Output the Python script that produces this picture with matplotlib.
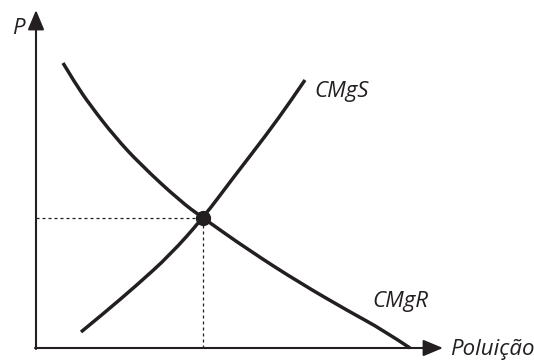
import numpy as np
import matplotlib.pyplot as plt
from matplotlib.path import Path
from matplotlib.patches import PathPatch

# curve points (origin at the axes corner)
cmgr_x = [27, 39, 54, 79, 104, 144, 167, 214, 264, 314, 347, 374]
cmgr_y = [285, 265, 243, 211, 184, 147, 130, 97, 65, 36, 18, 0]
cmgs_x = [45, 67, 101, 134, 167, 197, 231, 254, 269]
cmgs_y = [16, 34, 63, 93, 130, 170, 214, 246, 268]
eq_x, eq_y = 167, 130
labels = {'CMgS': (278, 256), 'CMgR': (336, 46)}

ink = '#231f20'


def smooth_path(xs, ys):
    # quadratic bezier pieces through the midpoints of the read points
    pts = np.column_stack([xs, ys]).astype(float)
    verts = [pts[0]]
    codes = [Path.MOVETO]
    n = len(pts)
    for i in range(1, n - 1):
        end = pts[i + 1] if i == n - 2 else (pts[i] + pts[i + 1]) / 2
        verts += [pts[i], end]
        codes += [Path.CURVE3, Path.CURVE3]
    return Path(verts, codes)


fig = plt.figure(figsize=(5.34, 3.6), dpi=100)
ax = fig.add_axes([0, 0, 1, 1])
ax.set_xlim(-36, 498)
ax.set_ylim(-12, 348)
ax.axis('off')

# axes with arrow heads
arrow = dict(arrowstyle='-|>,head_length=1.2,head_width=0.5', color=ink, lw=1.5,
             shrinkA=0, shrinkB=0, mutation_scale=10)
ax.annotate('', xy=(0, 338), xytext=(0, -1), arrowprops=arrow)
ax.annotate('', xy=(407, 0), xytext=(-1, 0), arrowprops=arrow)

for xs, ys in [(cmgr_x, cmgr_y), (cmgs_x, cmgs_y)]:
    ax.add_patch(PathPatch(smooth_path(xs, ys), fill=False, edgecolor=ink,
                           lw=2.5, capstyle='butt'))

ax.plot([0, eq_x], [eq_y, eq_y], color=ink, lw=0.9, ls=(0, (2.4, 2.4)))
ax.plot([eq_x, eq_x], [0, eq_y], color=ink, lw=0.9, ls=(0, (2.4, 2.4)))
ax.plot(eq_x, eq_y, 'o', color=ink, ms=10)

font = dict(family='Open Sans', style='italic', fontsize=16, color=ink)
ax.text(-24, 319, 'P', ha='left', va='center', **font)
ax.text(414, -2, 'Poluição', ha='left', va='center', **font)
for name, (x, y) in labels.items():
    ax.text(x, y, name, ha='left', va='center', **font)

fig.savefig('out.png', dpi=100)
